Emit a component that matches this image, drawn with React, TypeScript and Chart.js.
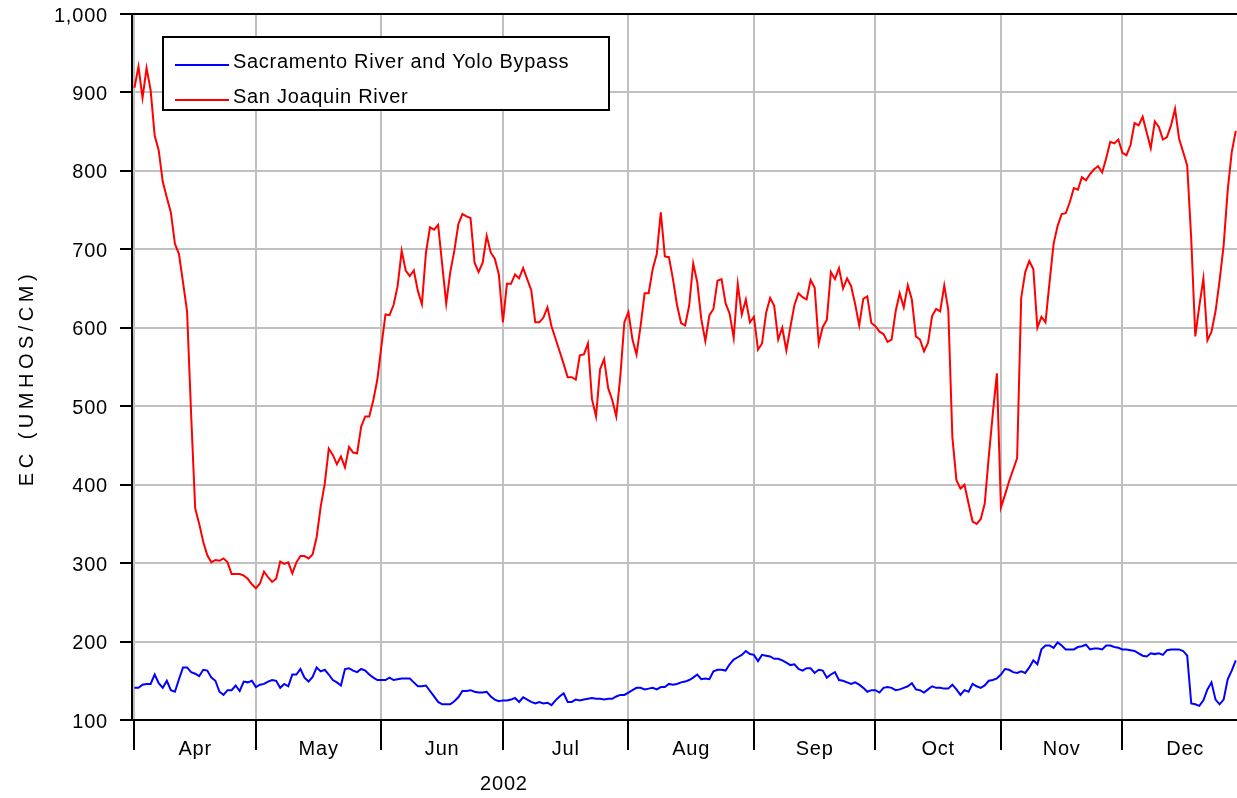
import React, { useEffect, useRef } from 'react';
import { Chart, registerables } from 'chart.js';

Chart.register(...registerables);

// ---- categories / labels ----
const MONTHS = ['Apr', 'May', 'Jun', 'Jul', 'Aug', 'Sep', 'Oct', 'Nov', 'Dec'];
const MONTH_DAYS = [30, 31, 30, 31, 31, 30, 31, 30, 31];
const YEAR_LABEL = '2002';
const Y_TITLE = 'EC (UMHOS/CM)';
const SAC_LABEL = 'Sacramento River and Yolo Bypass';
const SJR_LABEL = 'San Joaquin River';
const Y_MIN = 100;
const Y_MAX = 1000;
const Y_STEP = 100;

// ---- Sacramento River and Yolo Bypass, daily EC from Apr 1 ----
const sacApr = [141, 141, 145, 146, 146, 158, 147, 141, 150, 138, 136, 152, 167, 167, 161, 159, 156, 164, 163, 154, 150, 136, 132, 138, 138, 144, 137, 149, 148, 150];
const sacMay = [142, 145, 146, 149, 151, 150, 141, 146, 143, 158, 158, 165, 154, 149, 155, 167, 162, 164, 158, 151, 148, 144, 165, 166, 163, 161, 165, 163, 158, 154, 151];
const sacJun = [151, 151, 154, 151, 152, 153, 153, 153, 148, 143, 143, 144, 137, 130, 123, 120, 120, 120, 124, 129, 137, 137, 138, 136, 135, 135, 136, 130, 126, 124];
const sacJul = [125, 125, 126, 128, 123, 129, 126, 123, 121, 123, 121, 122, 119, 125, 130, 134, 123, 123, 126, 125, 126, 127, 128, 127, 127, 126, 127, 127, 130, 132, 132];
const sacAug = [135, 138, 141, 141, 139, 140, 141, 139, 142, 142, 146, 145, 146, 148, 149, 151, 154, 158, 152, 153, 152, 162, 164, 164, 163, 171, 177, 180, 183, 188, 184];
const sacSep = [183, 175, 183, 182, 181, 178, 178, 176, 173, 170, 171, 165, 163, 166, 166, 160, 164, 163, 154, 158, 161, 151, 150, 148, 146, 148, 145, 141, 136, 138];
const sacOct = [138, 135, 141, 142, 141, 138, 139, 141, 143, 147, 139, 138, 135, 139, 143, 141, 141, 140, 140, 145, 139, 132, 138, 136, 146, 143, 141, 144, 150, 151, 153];
const sacNov = [158, 165, 164, 161, 160, 162, 160, 167, 176, 171, 190, 195, 195, 192, 199, 195, 190, 190, 190, 193, 194, 196, 190, 191, 191, 190, 195, 195, 193, 192];
const sacDec = [190, 190, 189, 188, 185, 182, 181, 185, 184, 185, 183, 189, 190, 190, 190, 188, 182, 121, 120, 118, 125, 139, 148, 126, 120, 126, 152, 163, 176];

// ---- San Joaquin River, daily EC from Apr 1 ----
const sjrApr = [906, 933, 893, 931, 903, 845, 826, 786, 766, 747, 707, 694, 658, 621, 490, 370, 350, 327, 310, 301, 304, 303, 306, 301, 286, 286, 286, 284, 280, 273];
const sjrMay = [268, 274, 289, 282, 276, 280, 302, 299, 301, 287, 301, 309, 309, 306, 311, 333, 372, 401, 446, 438, 426, 436, 422, 448, 441, 440, 474, 487, 487, 508, 534];
const sjrJun = [577, 617, 616, 629, 653, 698, 673, 666, 673, 647, 630, 696, 728, 725, 731, 681, 631, 671, 698, 732, 745, 742, 740, 683, 671, 683, 717, 696, 688, 668];
const sjrJul = [607, 656, 656, 668, 663, 676, 662, 648, 607, 607, 613, 626, 602, 586, 570, 554, 537, 537, 534, 565, 566, 580, 509, 487, 547, 560, 523, 508, 487, 538, 607];
const sjrAug = [620, 585, 566, 602, 644, 644, 675, 694, 747, 691, 690, 662, 629, 606, 603, 628, 682, 658, 611, 583, 616, 624, 660, 662, 631, 618, 587, 656, 617, 636, 607];
const sjrSep = [614, 572, 580, 619, 638, 628, 585, 600, 571, 601, 629, 644, 639, 636, 661, 651, 580, 601, 610, 671, 662, 676, 650, 663, 653, 630, 603, 637, 640, 606];
const sjrOct = [602, 595, 592, 582, 585, 621, 644, 626, 654, 636, 589, 585, 570, 581, 615, 624, 621, 654, 623, 461, 406, 395, 400, 376, 353, 350, 356, 376, 436, 491, 542];
const sjrNov = [371, 387, 404, 419, 434, 638, 671, 685, 675, 600, 614, 607, 658, 707, 730, 745, 746, 760, 778, 776, 792, 788, 796, 802, 806, 798, 816, 837, 835, 840];
const sjrDec = [823, 820, 833, 861, 858, 869, 849, 829, 863, 856, 840, 843, 858, 879, 841, 824, 807, 713, 589, 628, 663, 584, 595, 621, 660, 705, 775, 824, 851];

const SAC_MONTHS = [sacApr, sacMay, sacJun, sacJul, sacAug, sacSep, sacOct, sacNov, sacDec];
const SJR_MONTHS = [sjrApr, sjrMay, sjrJun, sjrJul, sjrAug, sjrSep, sjrOct, sjrNov, sjrDec];

// x axis is "days since Apr 1"
const X_MIN = -0.6;
const X_MAX = 272.3;

const monthStarts: number[] = [];
MONTH_DAYS.forEach((d, i) => monthStarts.push(i === 0 ? 0 : monthStarts[i - 1] + MONTH_DAYS[i - 1]));
const monthMids = monthStarts.map((s, i) => s + MONTH_DAYS[i] / 2);
const boundarySet = new Set(monthStarts);
const midLabel = new Map<number, string>();
monthMids.forEach((v, i) => midLabel.set(v, MONTHS[i]));

function toPoints(months: number[][]) {
  const pts: { x: number; y: number }[] = [];
  months.forEach((arr, m) => arr.forEach((v, i) => pts.push({ x: monthStarts[m] + i, y: v })));
  return pts;
}

const FONT = '"Liberation Sans", Arial, sans-serif';
const GRID = '#c0c0c0';

const decorPlugin = {
  id: 'decor',
  beforeDraw(chart: any) {
    chart.ctx.letterSpacing = '0.8px';
  },
  afterDraw(chart: any) {
    const ctx = chart.ctx as CanvasRenderingContext2D & { letterSpacing: string };
    const xScale = chart.scales.x;
    ctx.save();
    // legend box
    const bx = 163, by = 37, bw = 446, bh = 73;
    ctx.fillStyle = '#ffffff';
    ctx.fillRect(bx, by, bw, bh);
    ctx.lineWidth = 2;
    ctx.strokeStyle = '#000000';
    ctx.strokeRect(bx, by, bw, bh);
    const items = chart.data.datasets.map((ds: any) => ({ label: ds.label, color: ds.borderColor }));
    const rows = [65, 100];
    const bases = [67.5, 103];
    items.forEach((it: any, i: number) => {
      ctx.beginPath();
      ctx.strokeStyle = it.color;
      ctx.lineWidth = 2;
      ctx.moveTo(175, rows[i]);
      ctx.lineTo(229, rows[i]);
      ctx.stroke();
      ctx.fillStyle = '#000000';
      ctx.font = `20px ${FONT}`;
      ctx.letterSpacing = '0.7px';
      ctx.textAlign = 'left';
      ctx.textBaseline = 'alphabetic';
      ctx.fillText(it.label, 233, bases[i]);
    });
    // year label under the month axis
    ctx.font = `20px ${FONT}`;
    ctx.letterSpacing = '0.8px';
    ctx.textAlign = 'center';
    ctx.textBaseline = 'alphabetic';
    ctx.fillStyle = '#000000';
    ctx.fillText(YEAR_LABEL, xScale.getPixelForValue(monthStarts[3]) + 1, 790);
    // y axis title
    ctx.translate(27, 378);
    ctx.rotate(-Math.PI / 2);
    ctx.letterSpacing = '4.5px';
    ctx.textBaseline = 'middle';
    ctx.fillText(Y_TITLE, 0, 0);
    ctx.restore();
  },
};

export default function App() {
  const ref = useRef<HTMLCanvasElement | null>(null);
  useEffect(() => {
    if (!ref.current) return;
    const chart = new Chart(ref.current, {
      type: 'line',
      data: {
        datasets: [
          {
            label: SAC_LABEL,
            data: toPoints(SAC_MONTHS),
            borderColor: '#0000ff',
            backgroundColor: '#0000ff',
            borderWidth: 2,
            pointRadius: 0,
            tension: 0,
            fill: false,
          },
          {
            label: SJR_LABEL,
            data: toPoints(SJR_MONTHS),
            borderColor: '#ff0000',
            backgroundColor: '#ff0000',
            borderWidth: 2,
            pointRadius: 0,
            tension: 0,
            fill: false,
          },
        ],
      },
      options: {
        responsive: false,
        animation: false,
        devicePixelRatio: 1,
        parsing: false,
        layout: { padding: { top: 14, left: 0, right: 0, bottom: 0 } },
        plugins: {
          legend: { display: false },
          title: { display: false },
          tooltip: { enabled: false },
        },
        font: { family: FONT, size: 20 },
        scales: {
          x: {
            type: 'linear',
            min: X_MIN,
            max: X_MAX,
            afterBuildTicks: (scale: any) => {
              const vals = [...monthStarts, ...monthMids].sort((a, b) => a - b);
              scale.ticks = vals.map((v) => ({ value: v }));
            },
            afterFit: (scale: any) => {
              scale.height = 78;
              scale.paddingLeft = 0;
              scale.paddingRight = 0;
            },
            ticks: {
              autoSkip: false,
              maxRotation: 0,
              minRotation: 0,
              padding: -13,
              color: '#000000',
              font: { family: FONT, size: 20 },
              callback: (value: any) => midLabel.get(value) ?? '',
            },
            grid: {
              color: (c: any) => (c.tick && boundarySet.has(c.tick.value) ? GRID : 'rgba(0,0,0,0)'),
              lineWidth: 2,
              tickColor: (c: any) => (c.tick && boundarySet.has(c.tick.value) ? '#000000' : 'rgba(0,0,0,0)'),
              tickLength: 30,
              tickWidth: 2,
            },
            border: { color: '#000000', width: 2 },
          },
          y: {
            type: 'linear',
            min: Y_MIN,
            max: Y_MAX,
            afterFit: (scale: any) => {
              scale.width = 132;
              scale.paddingTop = 0;
              scale.paddingBottom = 0;
            },
            ticks: {
              stepSize: Y_STEP,
              padding: 12,
              labelOffset: 2,
              color: '#000000',
              font: { family: FONT, size: 20 },
              callback: (value: any) => Number(value).toLocaleString('en-US'),
            },
            grid: {
              color: (c: any) => (c.tick && c.tick.value === Y_MAX ? '#000000' : GRID),
              lineWidth: 2,
              tickColor: '#000000',
              tickLength: 12,
              tickWidth: 2,
            },
            border: { color: '#000000', width: 2 },
          },
        },
      },
      plugins: [decorPlugin],
    } as any);
    return () => chart.destroy();
  }, []);
  return (
    <div style={{ position: 'absolute', left: 0, top: 0, width: 1237, height: 798, background: '#ffffff' }}>
      <canvas ref={ref} width={1237} height={798} style={{ display: 'block' }} />
    </div>
  );
}
